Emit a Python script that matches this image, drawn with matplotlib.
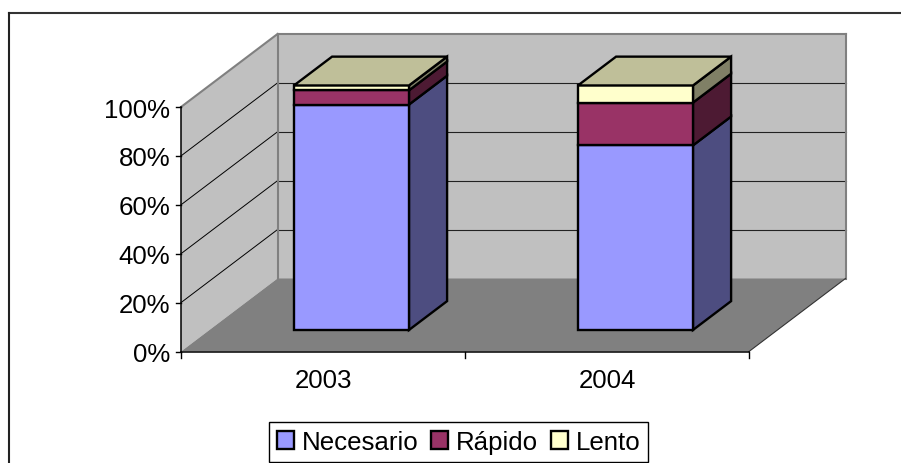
import matplotlib
matplotlib.use("Agg")
import matplotlib.pyplot as plt
from matplotlib.patches import Patch, Polygon

plt.rcParams["font.family"] = ["Liberation Sans", "DejaVu Sans"]

# chart data, percent of each year
years = ["2003", "2004"]
series_names = ["Necesario", "Rápido", "Lento"]
necesario = [92.2, 75.5]
rapido = [5.8, 17.5]
lento = [2.0, 7.0]
y_ticks = [0, 20, 40, 60, 80, 100]

front_colors = ["#9999FF", "#993366", "#FFFFCC"]
side_colors = ["#4D4D80", "#4D1A33", "#808066"]
top_color = "#BFBF99"

# pixel layout of the 3d box
X0, Y0 = 181.0, 352.5
PLOT_W, PLOT_H = 568.0, 244.5
DEPTH_X, DEPTH_Y = 96.5, -73.0
BAR_W = 0.405
BAR_D0, BAR_D1 = 0.295, 0.69
BAR_LW = 1.7
FONT_SIZE = 18.6


def project(x, value, depth=0.0):
    # x in category units, value in percent, depth from 0 (front) to 1 (back)
    px = X0 + x / len(years) * PLOT_W + depth * DEPTH_X
    py = Y0 - value / 100.0 * PLOT_H + depth * DEPTH_Y
    return px, py


def quad(ax, points, color, edge="none", lw=0.0, z=1):
    ax.add_patch(Polygon(points, closed=True, facecolor=color, edgecolor=edge,
                         linewidth=lw, joinstyle="miter", zorder=z))


def line(ax, a, b, color="black", lw=0.7, z=2):
    ax.plot([a[0], b[0]], [a[1], b[1]], color=color, lw=lw, zorder=z,
            solid_capstyle="projecting")


fig = plt.figure(figsize=(9.01, 4.64), dpi=100)
ax = fig.add_axes([0, 0, 1, 1])
ax.set_xlim(0, 901)
ax.set_ylim(464, 0)
ax.axis("off")

# outer chart frame, only top and left show in the crop
line(ax, (8.5, 14), (901, 14), color="#333333", lw=1.5)
line(ax, (8.5, 14), (8.5, 464), color="#222222", lw=1.5)

n = len(years)
# walls and floor
quad(ax, [project(0, 0), project(0, 100), project(0, 100, 1), project(0, 0, 1)], "#C0C0C0")
quad(ax, [project(0, 0, 1), project(0, 100, 1), project(n, 100, 1), project(n, 0, 1)], "#C0C0C0")
quad(ax, [project(0, 0), project(0, 0, 1), project(n, 0, 1), project(n, 0)], "#808080")

# gridlines
for v in y_ticks[1:-1]:
    line(ax, project(0, v), project(0, v, 1), lw=0.7)
    line(ax, project(0, v, 1), project(n, v, 1), color="#222222", lw=0.8)

# wall edges
line(ax, project(0, 100), project(0, 100, 1), color="#808080", lw=1.5)
line(ax, project(0, 100, 1), project(n, 100, 1), color="#808080", lw=1.5)
line(ax, project(0, 0, 1), project(0, 100, 1), color="#808080", lw=1.5)
line(ax, project(n, 0, 1), project(n, 100, 1), color="#808080", lw=1.5)
line(ax, project(n, 0), project(n, 0, 1), color="#333333", lw=0.8)

# axis lines, ticks and labels
line(ax, project(0, 0), project(0, 100), lw=1.1, z=3)
line(ax, project(0, 0), project(n, 0), lw=1.1, z=3)
for v in y_ticks:
    px, py = project(0, v)
    line(ax, (px - 5, py), (px, py), lw=1.0, z=3)
    ax.text(px - 11, py, f"{v}%", ha="right", va="center_baseline", fontsize=FONT_SIZE, color="black")
for i in range(n + 1):
    px, py = project(i, 0)
    line(ax, (px, py), (px, py + 6), lw=1.0, z=3)
for i, year in enumerate(years):
    px, py = project(i + 0.5, 0)
    ax.text(px, py + 26, year, ha="center", va="center_baseline", fontsize=FONT_SIZE, color="black")

# stacked bars
for i in range(n):
    left = i + 0.5 - BAR_W / 2
    right = i + 0.5 + BAR_W / 2
    base = 0.0
    for values, front, side in zip([necesario, rapido, lento], front_colors, side_colors):
        top = base + values[i]
        quad(ax, [project(right, base, BAR_D0), project(right, base, BAR_D1),
                  project(right, top, BAR_D1), project(right, top, BAR_D0)],
             side, "black", BAR_LW, z=5)
        quad(ax, [project(left, base, BAR_D0), project(right, base, BAR_D0),
                  project(right, top, BAR_D0), project(left, top, BAR_D0)],
             front, "black", BAR_LW, z=6)
        base = top
    quad(ax, [project(left, base, BAR_D0), project(right, base, BAR_D0),
              project(right, base, BAR_D1), project(left, base, BAR_D1)],
         top_color, "black", BAR_LW, z=6)

handles = [Patch(facecolor=c, edgecolor="black", linewidth=1.7) for c in front_colors]
leg = ax.legend(handles, series_names, ncols=3, fontsize=FONT_SIZE, loc="center",
                bbox_to_anchor=(458.7 / 901, 1 - 443 / 464), frameon=True, fancybox=False,
                framealpha=1, edgecolor="black", handlelength=0.66, handleheight=0.72,
                handletextpad=0.3, columnspacing=0.5, borderpad=0.3, borderaxespad=0)
leg.get_frame().set_linewidth(1.0)
leg.set_zorder(8)

fig.savefig("out.png", dpi=100)
